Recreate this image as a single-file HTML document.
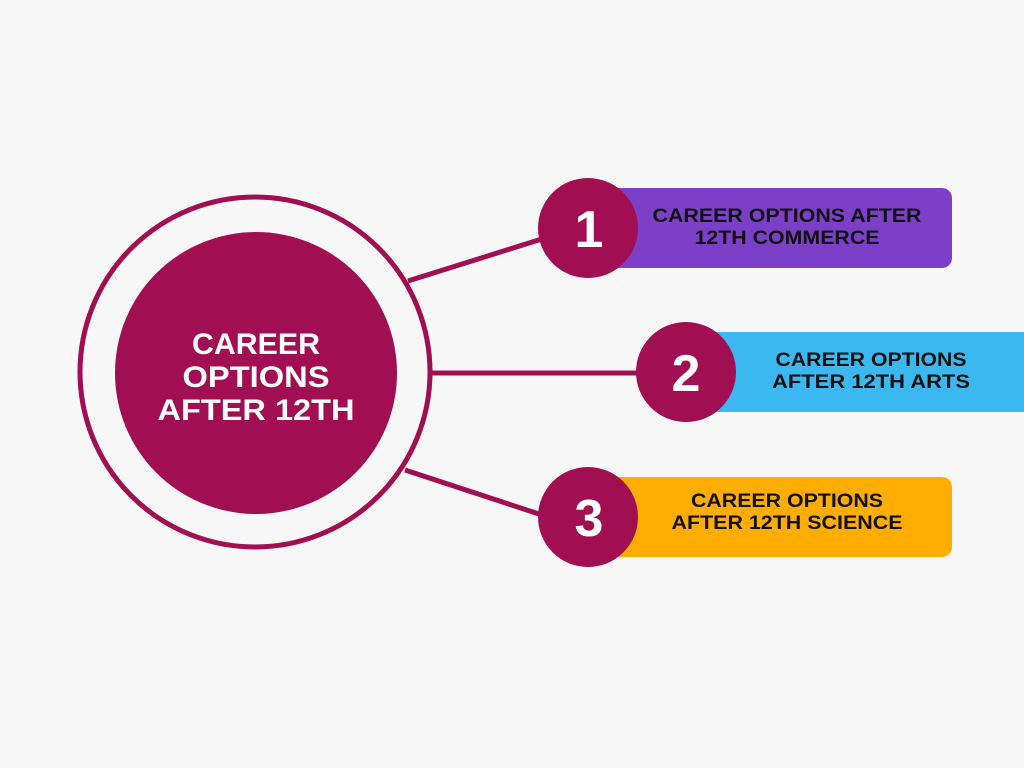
<!DOCTYPE html>
<html><head><meta charset="utf-8"><style>
html,body{margin:0;padding:0;background:#f7f7f7;}
svg{display:block}
text{font-family:"Liberation Sans",sans-serif;font-weight:bold;}
</style></head><body>
<svg width="1024" height="768" viewBox="0 0 1024 768">
<rect width="1024" height="768" fill="#f7f7f7"/>
<g stroke="#a10f52" stroke-width="5">
<line x1="408" y1="281" x2="545" y2="238"/>
<line x1="432" y1="373" x2="640" y2="373"/>
<line x1="405" y1="470" x2="545" y2="516"/>
</g>
<circle cx="255" cy="372" r="175" fill="none" stroke="#a10f52" stroke-width="5"/>
<circle cx="256" cy="373" r="141" fill="#a10f52"/>
<g fill="#fff" font-size="30" text-anchor="middle" lengthAdjust="spacingAndGlyphs">
<text x="256" y="354" textLength="128" lengthAdjust="spacingAndGlyphs">CAREER</text>
<text x="256" y="387" textLength="147" lengthAdjust="spacingAndGlyphs">OPTIONS</text>
<text x="256" y="420" textLength="197" lengthAdjust="spacingAndGlyphs">AFTER 12TH</text>
</g>
<rect x="590" y="188" width="362" height="80" rx="10" fill="#7b3fc8"/>
<rect x="690" y="332" width="344" height="80" rx="10" fill="#3bb8f0"/>
<rect x="590" y="477" width="362" height="80" rx="10" fill="#ffad00"/>
<circle cx="588" cy="228" r="50" fill="#a10f52"/>
<circle cx="686" cy="372" r="50" fill="#a10f52"/>
<circle cx="588" cy="517" r="50" fill="#a10f52"/>
<g fill="#fff" font-size="52" text-anchor="middle">
<text x="589" y="247">1</text>
<text x="686" y="391">2</text>
<text x="589" y="536">3</text>
</g>
<g fill="#111" font-size="19" text-anchor="middle">
<text x="787" y="222" textLength="269" lengthAdjust="spacingAndGlyphs">CAREER OPTIONS AFTER</text>
<text x="787" y="244" textLength="185" lengthAdjust="spacingAndGlyphs">12TH COMMERCE</text>
<text x="871" y="366" textLength="191" lengthAdjust="spacingAndGlyphs">CAREER OPTIONS</text>
<text x="871" y="388" textLength="198" lengthAdjust="spacingAndGlyphs">AFTER 12TH ARTS</text>
<text x="787" y="507" textLength="192" lengthAdjust="spacingAndGlyphs">CAREER OPTIONS</text>
<text x="787" y="529" textLength="231" lengthAdjust="spacingAndGlyphs">AFTER 12TH SCIENCE</text>
</g>
</svg>
</body></html>
